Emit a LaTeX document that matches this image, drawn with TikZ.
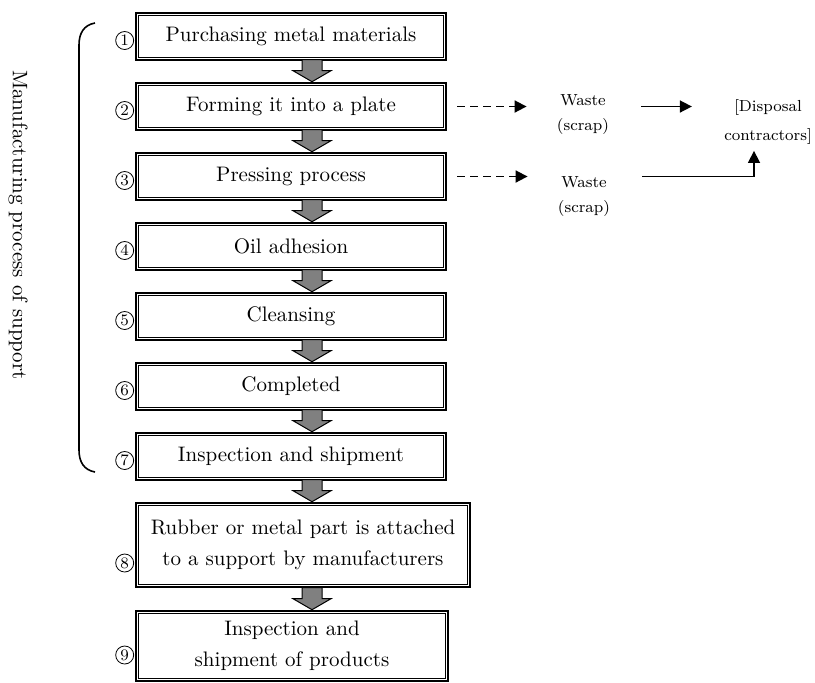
\documentclass[tikz,border=0pt]{standalone}
\usetikzlibrary{calc, positioning, arrows.meta}

\tikzset{
    stagebox/.style={draw, line width=1.3pt, minimum width=155pt,
        minimum height=23.5pt, align=center, inner sep=2pt,
        font=\fontsize{10.5}{12.6}\selectfont},
    innerline/.style={line width=0.5pt},
    stepnum/.style={draw, circle, line width=0.4pt, inner sep=0pt,
        minimum size=9pt, font=\footnotesize},
    blockarrow/.style={draw, line width=0.5pt, fill=gray, line join=miter},
    note/.style={align=center, font=\footnotesize, inner sep=0pt},
    scraparrow/.style={line width=0.9pt, dash pattern=on 4pt off 2.5pt,
        -{Triangle[length=6pt, width=6pt]}},
    wastearrow/.style={line width=0.8pt, -{Triangle[length=6pt, width=6pt]}},
}

\begin{document}
\begin{tikzpicture}[x=0.5pt, y=-0.5pt]
    \useasboundingbox (0, 0) rectangle (815, 682);

    % Process steps
    \node (b1) at (291, 36.5) [stagebox] {Purchasing metal materials};
    \node (b2) at (291, 106.5) [stagebox] {Forming it into a plate};
    \node (b3) at (291, 176.5) [stagebox] {Pressing process};
    \node (b4) at (291, 246.5) [stagebox] {Oil adhesion};
    \node (b5) at (291, 316.5) [stagebox] {Cleansing};
    \node (b6) at (291, 386.5) [stagebox] {Completed};
    \node (b7) at (291, 456.5) [stagebox] {Inspection and shipment};
    \node (b8) at (303, 545) [stagebox, minimum width=167pt, minimum height=42pt]
        {Rubber or metal part is attached\\[3pt]to a support by manufacturers};
    \node (b9) at (292, 646) [stagebox, minimum width=156pt, minimum height=35pt]
        {Inspection and\\[3pt]shipment of products};

    \foreach \n in {1,...,9}
        \draw [innerline] ($(b\n.north west) + (4, 4)$)
            rectangle ($(b\n.south east) + (-4, -4)$);

    % Step numbers
    \foreach \n/\dy in {1/-2pt, 2/-2pt, 3/-2pt, 4/-2pt, 5/-2pt, 6/-2pt, 7/-2pt, 8/-9pt, 9/-4.5pt}
        \node (n\n) [stepnum, left=0.3pt of b\n, yshift=\dy] {\n};

    % Block arrows between steps
    \coordinate (col) at (312, 0);
    \foreach \a/\b in {1/2, 2/3, 3/4, 4/5, 5/6, 6/7, 7/8, 8/9}
        \draw [blockarrow] (b\b.north -| col) -- ++(-19, -11) -- ++(9, 0)
            -- ++(0, -11) -- ++(20, 0) -- ++(0, 11) -- ++(9, 0) -- cycle;

    % Bracket and side label
    \draw [line width=0.8pt] (95, 23) .. controls (84, 25) and (79, 33) .. (79, 45)
        -- (79, 450) .. controls (79, 462) and (84, 470) .. (95, 472);
    \node (side) at (18, 225) [rotate=-90, font=\fontsize{10.5}{12.6}\selectfont]
        {Manufacturing process of support};

    % Waste
    \node (w1) at (583, 115) [note] {Waste\\[3pt](scrap)};
    \node (w2) at (584, 197) [note] {Waste\\[3pt](scrap)};
    \node (dp) at (768, 122) [note] {[Disposal\\[5pt]contractors]};

    \draw [scraparrow, shorten <=5pt, shorten >=15pt] (b2.east) -- (b2.east -| w1.west);
    \draw [scraparrow, shorten <=5pt, shorten >=15pt] (b3.east) -- (b3.east -| w2.west);
    \draw [wastearrow, shorten <=16pt, shorten >=16pt] (b2.east -| w1.east) -- (b2.east -| dp.west);
    \draw [wastearrow, shorten <=16pt, shorten >=3pt] (b3.east -| w2.east)
        -| ($(dp.south) + (-14, 0)$);
\end{tikzpicture}
\end{document}
